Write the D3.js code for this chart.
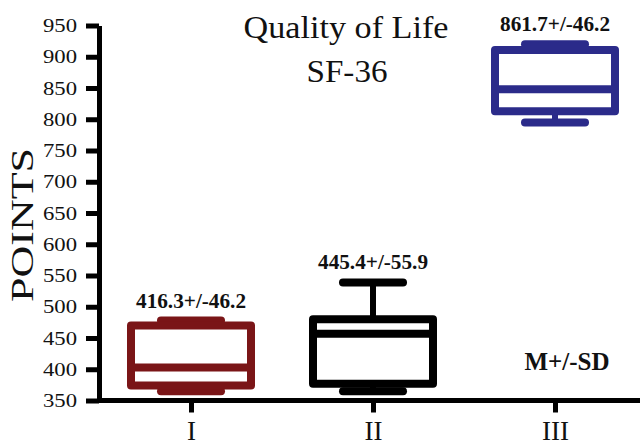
<!DOCTYPE html>
<html>
<head>
<meta charset="utf-8">
<script src="https://cdn.jsdelivr.net/npm/d3@7"></script>
<style>
  body { margin: 0; background: #fff; }
  svg { display: block; }
  text { font-family: "Liberation Serif", "Times New Roman", serif; fill: #111; }
</style>
</head>
<body>
<script>
// Quality of Life (SF-36) scores per group
const categories = ["I", "II", "III"];
const whiskerLow = [365, 365, 795];
const q1 = [374, 377, 813];
const median = [403, 457, 848];
const q3 = [470, 480, 911];
const whiskerHigh = [478, 539, 920];
const valueLabels = ["416.3+/-46.2", "445.4+/-55.9", "861.7+/-46.2"];
const boxColors = ["#7a1517", "#000000", "#2b2b8a"];
const yTicks = d3.range(350, 951, 50);

const W = 640, H = 446;
const svg = d3.select("body").append("svg").attr("width", W).attr("height", H);

const y = d3.scaleLinear().domain([350, 950]).range([400.5, 25.5]);
const x = d3.scalePoint().domain(categories).range([191, 555]);
const axisX = 99;

// Y axis
const gy = svg.append("g").attr("transform", `translate(${axisX},0)`)
  .call(d3.axisLeft(y).tickValues(yTicks).tickSize(13).tickSizeOuter(0).tickPadding(9));
gy.select(".domain").attr("stroke", "#000").attr("stroke-width", 5);
gy.selectAll(".tick line").attr("stroke", "#000").attr("stroke-width", 5);
gy.selectAll(".tick text")
  .attr("font-size", 19).attr("fill", "#222")
  .attr("font-family", "'Liberation Serif', 'Times New Roman', serif")
  .attr("textLength", 34).attr("lengthAdjust", "spacingAndGlyphs");

// X axis
const gx = svg.append("g").attr("transform", `translate(0,${y(350)})`)
  .call(d3.axisBottom(x).tickSize(12).tickSizeOuter(0));
gx.select(".domain").attr("d", `M${axisX - 2},0H${W}`).attr("stroke", "#000").attr("stroke-width", 5);
gx.selectAll(".tick line").attr("stroke", "#000").attr("stroke-width", 5);
gx.selectAll(".tick text")
  .attr("font-size", 27).attr("fill", "#222")
  .attr("font-family", "'Liberation Serif', 'Times New Roman', serif")
  .attr("y", 39).attr("dy", 0);

// Box plots
const boxW = 120, capHalf = 30;
const groups = svg.append("g").selectAll("g").data(categories).join("g")
  .attr("transform", d => `translate(${x(d)},0)`);

groups.each(function (d, i) {
  const g = d3.select(this);
  const c = boxColors[i];
  // whisker stems
  g.append("line").attr("x1", 0).attr("x2", 0)
    .attr("y1", y(q3[i])).attr("y2", y(whiskerHigh[i]))
    .attr("stroke", c).attr("stroke-width", 6);
  g.append("line").attr("x1", 0).attr("x2", 0)
    .attr("y1", y(q1[i])).attr("y2", y(whiskerLow[i]))
    .attr("stroke", c).attr("stroke-width", 6);
  // caps
  [whiskerHigh[i], whiskerLow[i]].forEach(v => {
    g.append("line").attr("x1", -capHalf).attr("x2", capHalf)
      .attr("y1", y(v)).attr("y2", y(v))
      .attr("stroke", c).attr("stroke-width", 8).attr("stroke-linecap", "round");
  });
  // box
  g.append("rect")
    .attr("x", -boxW / 2).attr("width", boxW)
    .attr("y", y(q3[i])).attr("height", y(q1[i]) - y(q3[i]))
    .attr("fill", "#fff").attr("stroke", c).attr("stroke-width", 8)
    .attr("stroke-linejoin", "round");
  // median
  g.append("line").attr("x1", -boxW / 2).attr("x2", boxW / 2)
    .attr("y1", y(median[i])).attr("y2", y(median[i]))
    .attr("stroke", c).attr("stroke-width", 8);
  // value label
  g.append("text")
    .attr("x", 0).attr("y", y(whiskerHigh[i]) - 13)
    .attr("text-anchor", "middle")
    .attr("font-size", 20).attr("font-weight", "bold")
    .attr("textLength", 110).attr("lengthAdjust", "spacingAndGlyphs")
    .text(valueLabels[i]);
});

// Title
svg.append("text").attr("x", 346).attr("y", 38).attr("text-anchor", "middle")
  .attr("font-size", 32).attr("textLength", 205).attr("lengthAdjust", "spacingAndGlyphs")
  .text("Quality of Life");
svg.append("text").attr("x", 347).attr("y", 82).attr("text-anchor", "middle")
  .attr("font-size", 32).attr("textLength", 81).attr("lengthAdjust", "spacingAndGlyphs")
  .text("SF-36");

// Y axis title
svg.append("text").attr("transform", "translate(33,225) rotate(-90)")
  .attr("text-anchor", "middle").attr("font-size", 32)
  .attr("textLength", 154).attr("lengthAdjust", "spacingAndGlyphs")
  .text("POINTS");

// Legend note
svg.append("text").attr("x", 567).attr("y", 370).attr("text-anchor", "middle")
  .attr("font-size", 25).attr("font-weight", "bold")
  .text("M+/-SD");
</script>
</body>
</html>
